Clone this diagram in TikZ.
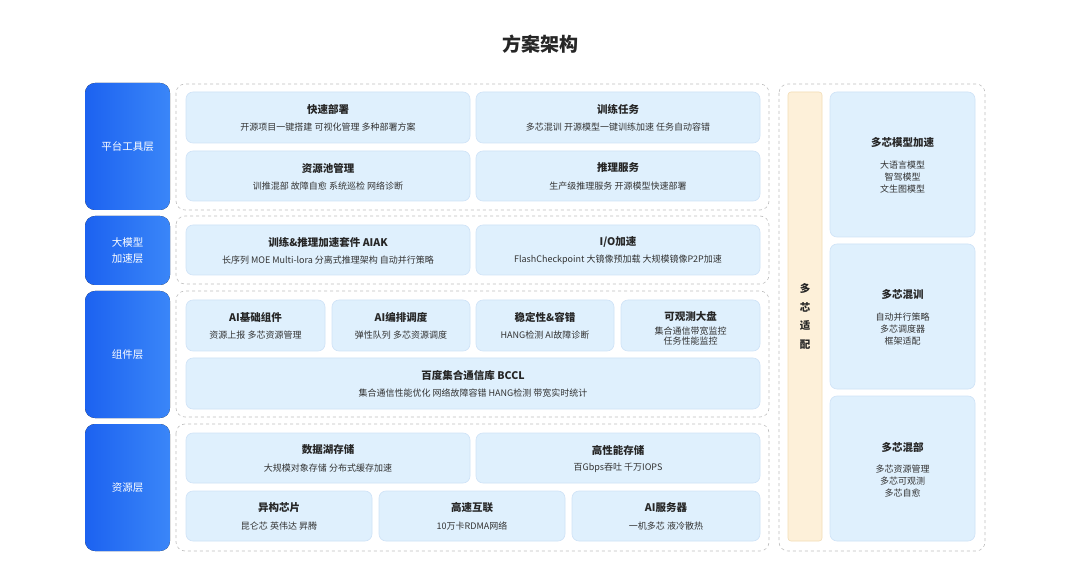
\documentclass[tikz,border=0pt]{standalone}
\usepackage{fontspec}
\setmainfont{Noto Sans CJK SC}
\begin{document}
\begin{tikzpicture}[x=1pt,y=-1pt,
  panel/.style={draw=black!25,dashed,rounded corners=9pt,line width=0.6pt},
  ibox/.style={fill=boxbg,draw=boxln,line width=0.6pt,rounded corners=7pt},
  tt/.style={font=\fontsize{10.5}{12}\selectfont\bfseries,text=black!85},
  st/.style={font=\fontsize{9}{11}\selectfont,text=black!80,align=center},
  lt/.style={font=\fontsize{10.5}{16}\selectfont,text=white,align=center}]
\definecolor{boxbg}{HTML}{DFF0FD}
\definecolor{boxln}{HTML}{CFE3F7}
\definecolor{lb}{HTML}{1C62F0}
\definecolor{lb2}{HTML}{3A86F8}
\definecolor{ybg}{HTML}{FDF0D9}
\definecolor{yln}{HTML}{F3DDB5}
\useasboundingbox[fill=white] (0,0) rectangle (1080,588);
\node[font=\fontsize{19}{22}\selectfont\bfseries,text=black!85] (title) at (540,44) {方案架构};
\foreach \n/\a/\b/\t in {l1/83/210/平台工具层,l2/216/285/大模型\\加速层,l3/291/418/组件层,l4/424/551/资源层}{
  \fill[rounded corners=10pt,left color=lb,right color=lb2] (85,\a) rectangle (170,\b);
  \node[lt] (\n) at (127.5,{(\a+\b)/2}) {\t};
}
\foreach \a/\b in {84/210,216/284,291/417,424/551}{
  \draw[panel] (176,\a) rectangle (769,\b);
}
\draw[panel] (779,84) rectangle (985,551);
\foreach \n/\x/\xx/\y/\yy/\t/\s in {
 b1/186/470/92/143/快速部署/开源项目一键搭建 可视化管理 多种部署方案,
 b2/476/760/92/143/训练任务/多芯混训 开源模型一键训练加速 任务自动容错,
 b3/186/470/151/201/资源池管理/训推混部 故障自愈 系统巡检 网络诊断,
 b4/476/760/151/201/推理服务/生产级推理服务 开源模型快速部署,
 b5/186/470/225/275/训练\&推理加速套件 AIAK/长序列 MOE Multi-lora 分离式推理架构 自动并行策略,
 b7/186/325/300/351/AI基础组件/资源上报 多芯资源管理,
 b8/332/470/300/351/AI编排调度/弹性队列 多芯资源调度,
 b9/476/614/300/351/稳定性\&容错/HANG检测 AI故障诊断,
 b11/186/760/358/409/百度集合通信库 BCCL/集合通信性能优化 网络故障容错 HANG检测 带宽实时统计,
 b12/186/470/433/483/数据湖存储/大规模对象存储 分布式缓存加速,
 b13/476/760/433/483/高性能存储/百Gbps吞吐 千万IOPS,
 b14/186/372/491/541/异构芯片/昆仑芯 英伟达 昇腾,
 b15/379/565/491/541/高速互联/10万卡RDMA网络,
 b16/572/760/491/541/AI服务器/一机多芯 液冷散热}{
  \draw[ibox] (\x,\y) rectangle (\xx,\yy);
  \node[tt] (\n t) at ({(\x+\xx)/2},{\y+17}) {\t};
  \node[st] (\n s) at ({(\x+\xx)/2},{\y+35}) {\s};
}
\draw[ibox] (476,225) rectangle (760,275);
\node[tt] (b6t) at (618,242) {I/O加速};
\node[st] (b6s) at (618,260) {FlashCheckpoint 大镜像预加载 大规模镜像P2P加速};
\draw[ibox] (621,300) rectangle (760,351);
\node[tt] (b10t) at (690.5,316) {可观测大盘};
\node[st,font=\fontsize{9}{10.5}\selectfont] (b10s) at (690.5,336) {集合通信带宽监控\\任务性能监控};
\draw[fill=ybg,draw=yln,line width=0.6pt,rounded corners=3pt] (788,92) rectangle (822,541);
\node[font=\fontsize{10.5}{18.5}\selectfont\bfseries,align=center,text=black!85] (v) at (805,316.5) {多\\芯\\适\\配};
\foreach \n/\y/\yy/\t/\s in {r1/92/237/多芯模型加速/大语言模型\\智驾模型\\文生图模型, r2/244/389/多芯混训/自动并行策略\\多芯调度器\\框架适配, r3/396/541/多芯混部/多芯资源管理\\多芯可观测\\多芯自愈}{
  \draw[ibox] (830,\y) rectangle (975,\yy);
  \node[tt] (\n t) at (902.5,{\y+51}) {\t};
  \node[st,font=\fontsize{9}{12}\selectfont,anchor=north] (\n s) at (902.5,{\y+65}) {\s};
}
\end{tikzpicture}
\end{document}
